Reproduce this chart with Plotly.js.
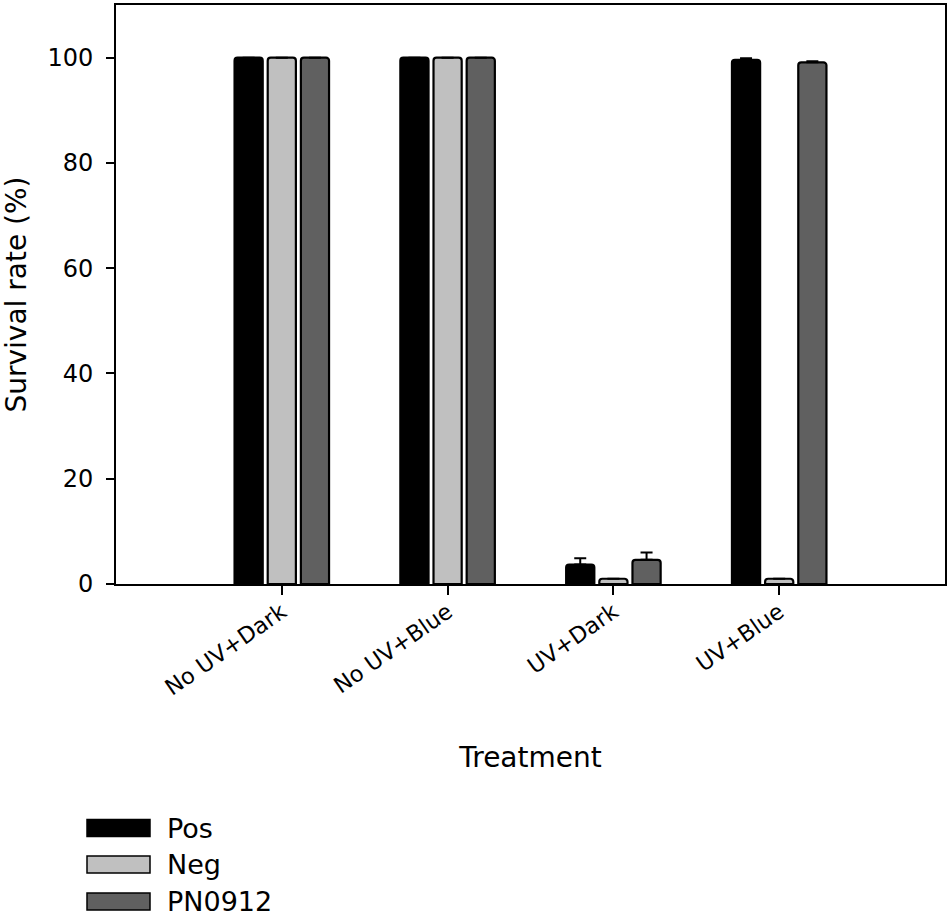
<!DOCTYPE html>
<html>
<head>
<meta charset="utf-8">
<script src="https://cdn.plot.ly/plotly-3.0.1.min.js"></script>
<style>html,body{margin:0;padding:0;background:#fff;}#chart{width:950px;height:916px;}</style>
</head>
<body>
<div id="chart"></div>
<script>
// ---- data ----
var categories = ["No UV+Dark", "No UV+Blue", "UV+Dark", "UV+Blue"];
var seriesNames = ["Pos", "Neg", "PN0912"];
var posValues = [100, 100, 3.7, 99.6];
var posErrors = [0, 0, 1.2, 0.3];
var negValues = [100, 100, 1.0, 1.0];
var negErrors = [0, 0, 0, 0];
var pnValues = [100, 100, 4.6, 99.1];
var pnErrors = [0, 0, 1.4, 0.2];
var yTicks = [0, 20, 40, 60, 80, 100];

// ---- styling ----
var colors = ["#000000", "#c0c0c0", "#606060"];
var FONT = "DejaVu Sans, Verdana, sans-serif";
var W = 950, H = 916, ML = 116, MR = 5, MT = 5, MB = 332;
var PW = W - ML - MR, PH = H - MT - MB;

function px2x(px) { return (px - ML) / PW; }
function py2y(py) { return (H - MB - py) / PH; }

var valueSets = [posValues, negValues, pnValues];
var errorSets = [posErrors, negErrors, pnErrors];
var xIdx = categories.map(function (c, i) { return i; });

var traces = seriesNames.map(function (name, k) {
  return {
    type: "bar",
    name: name,
    x: xIdx,
    y: valueSets[k],
    marker: { color: colors[k], line: { color: "#000", width: 2.2 }, cornerradius: 3 },
    error_y: {
      type: "data", symmetric: false, array: errorSets[k],
      arrayminus: errorSets[k].map(function () { return 0; }),
      color: "#000", thickness: 2, width: 6
    },
    showlegend: false,
    hoverinfo: "x+y+name"
  };
});

// manual legend (large rectangles like the original)
var legendRows = [828, 864.5, 901.5];
var shapes = [], annotations = [];
seriesNames.forEach(function (name, k) {
  var cy = legendRows[k];
  shapes.push({
    type: "rect", xref: "paper", yref: "paper",
    x0: px2x(87), x1: px2x(150), y0: py2y(cy + 8.5), y1: py2y(cy - 8.5),
    fillcolor: colors[k], line: { color: "#000", width: 1.5 }
  });
  annotations.push({
    xref: "paper", yref: "paper", x: px2x(165), y: py2y(cy),
    xanchor: "left", yanchor: "middle", showarrow: false,
    text: name, font: { family: FONT, size: 27, color: "#000" }
  });
});

var layout = {
  width: W, height: H,
  margin: { l: ML, r: MR, t: MT, b: MB, pad: 0 },
  paper_bgcolor: "#fff", plot_bgcolor: "#fff",
  barmode: "group", bargap: 0.4, bargroupgap: 0.15,
  font: { family: FONT, color: "#000" },
  xaxis: {
    range: [-1, 4], tickmode: "array", tickvals: xIdx, ticktext: categories,
    tickangle: -35, ticks: "outside", ticklen: 9, tickwidth: 2, tickcolor: "#000",
    ticklabelstandoff: -5,
    showline: true, linecolor: "#000", linewidth: 2, mirror: true,
    showgrid: false, zeroline: false,
    tickfont: { family: FONT, size: 22.5, color: "#000" },
    title: { text: "Treatment", font: { family: FONT, size: 28, color: "#000" }, standoff: 48 }
  },
  yaxis: {
    range: [0, 110], tickmode: "array", tickvals: yTicks,
    ticks: "outside", ticklen: 8, tickwidth: 2, tickcolor: "#000",
    showline: true, linecolor: "#000", linewidth: 2, mirror: true,
    showgrid: false, zeroline: false,
    tickfont: { family: FONT, size: 24, color: "#000" },
    ticklabelstandoff: 8,
    title: { text: "Survival rate (%)", font: { family: FONT, size: 28, color: "#000" }, standoff: 16 }
  },
  shapes: shapes,
  annotations: annotations,
  showlegend: false
};

Plotly.newPlot("chart", traces, layout, { displayModeBar: false, staticPlot: true });
</script>
</body>
</html>
